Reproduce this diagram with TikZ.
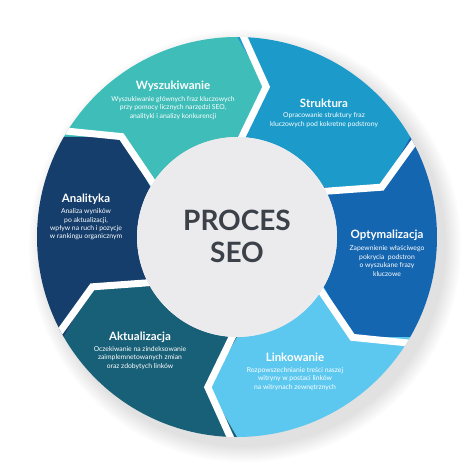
\documentclass[tikz,border=0pt]{standalone}
\usepackage{fontspec}
\setmainfont{Lato}
\definecolor{cWysz}{HTML}{3FBEB9}
\definecolor{cStru}{HTML}{1C9BCA}
\definecolor{cOpty}{HTML}{1566B1}
\definecolor{cLink}{HTML}{5CC8EF}
\definecolor{cAktu}{HTML}{186077}
\definecolor{cAnal}{HTML}{153E6C}
\definecolor{cInner}{HTML}{EBEBED}
\definecolor{cTitle}{HTML}{3B4049}
\newcommand\segpath[1]{(#1:200) arc[start angle=#1, end angle=#1-60, radius=200] -- ({#1-71}:153) -- ({#1-60}:100) arc[start angle=#1-60, end angle=#1, radius=100] -- ({#1-11}:153) -- cycle}
\tikzset{
  segtitle/.style={text=white, font=\bfseries\fontsize{11.5}{13}\selectfont, inner sep=0pt},
  segdesc/.style={text=white, font=\fontsize{6.8}{8.4}\selectfont, align=center, inner sep=0pt},
  gapline/.style={draw=white, line width=7pt, line join=miter}
}
\begin{document}
\begin{tikzpicture}[x=1pt,y=1pt]
\useasboundingbox (-237,-237) rectangle (237,237);
\fill[white] (-237,-237) rectangle (237,237);
% soft shadow
\foreach \k in {0,...,9} {\fill[black, opacity=0.011] (8,-9) circle ({201+1.7*\k});}
% segments
\fill[cWysz] \segpath{150};
\fill[cStru] \segpath{90};
\fill[cOpty] \segpath{30};
\fill[cLink] \segpath{-30};
\fill[cAktu] \segpath{-90};
\fill[cAnal] \segpath{-150};
% gaps
\begin{scope}
\clip (0,0) circle (200);
\foreach \t in {150,90,30,-30,-90,-150} {
  \draw[gapline] (\t:215) -- ({\t-11}:153) -- (\t:90);
}
\end{scope}
% centre
\node[circle, fill=cInner, minimum size=200pt, inner sep=0pt] (centre) at (0,0) {};
\node[text=cTitle, font=\bfseries\fontsize{28}{32}\selectfont, align=center, inner sep=0pt] (proc) at (0,1) {PROCES\\SEO};
% labels
\node[segtitle] (t1) at (-64,151) {Wyszukiwanie};
\node[segdesc] (d1) at (-64,129) {Wyszukiwanie głównych fraz kluczowych\\przy pomocy licznych narzędzi SEO,\\analityki i analizy konkurencji};
\node[segtitle] (t2) at (87,134) {Struktura};
\node[segdesc] (d2) at (87,117) {Opracowanie struktury fraz\\kluczowych pod kokretne podstrony};
\node[segtitle] (t3) at (150,2) {Optymalizacja};
\node[segdesc] (d3) at (150,-24) {Zapewnienie właściwego\\pokrycia~ podstron\\o wyszukane frazy\\kluczowe};
\node[segtitle] (t4) at (58,-120) {Linkowanie};
\node[segdesc] (d4) at (58,-142) {Rozpowszechnianie treści naszej\\witryny w postaci linków\\na witrynach zewnętrznych};
\node[segtitle] (t5) at (-97,-100) {Aktualizacja};
\node[segdesc] (d5) at (-97,-121) {Oczekiwanie na zindeksowanie\\zaimplemnetowanych zmian\\oraz zdobytych linków};
\node[segtitle] (t6) at (-151,38) {Analityka};
\node[segdesc] (d6) at (-151,12.5) {Analiza wyników\\po aktualizacji,\\wpływ na ruch i pozycje\\w rankingu organicznym};
\end{tikzpicture}
\end{document}
